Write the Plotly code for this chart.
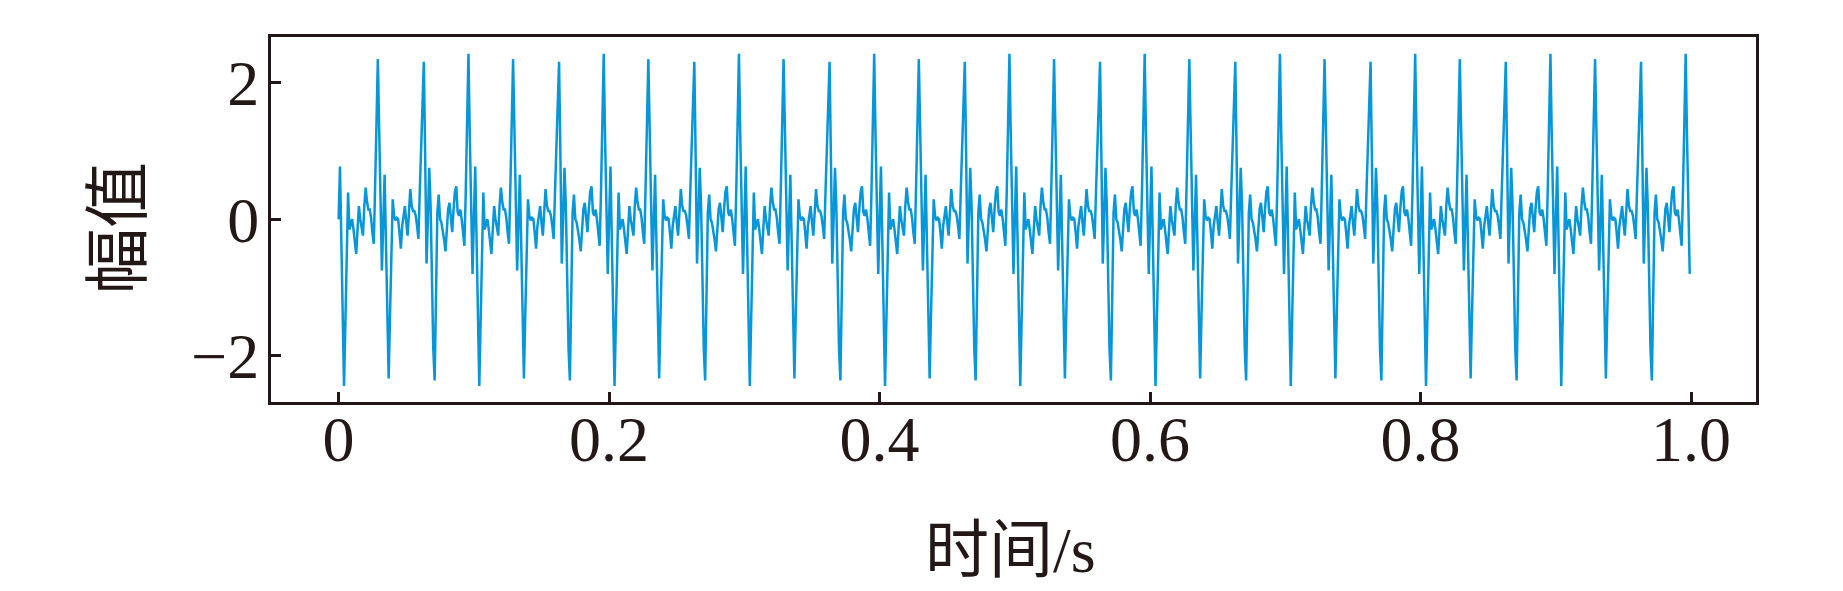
import plotly.graph_objects as go

# One 0.1 s cycle (100 samples at 1 kHz) read from the picture; the recorded
# signal repeats this cycle exactly (peak heights repeat every 3 periods).
cycle_values = [
    0.0, 0.77, -0.3, -1.35, -2.44, -1.5, -0.55, 0.39, -0.15, -0.05,
    0.0, -0.15, -0.3, -0.51, -0.15, 0.19, 0.0, -0.15, -0.24, 0.2,
    0.46, 0.25, 0.14, 0.14, 0.02, -0.2, -0.36, 0.5, 1.45, 2.34,
    1.3, 0.25, -0.75, -0.05, 0.65, -0.35, -1.35, -2.33, -1.4, -0.5,
    0.29, 0.05, -0.02, 0.02, 0.0, -0.2, -0.43, -0.1, 0.1, 0.19,
    -0.05, -0.24, 0.1, 0.44, 0.2, 0.12, 0.12, 0.05, -0.1, -0.29,
    0.4, 1.1, 1.8, 2.30, 0.9, -0.65, 0.0, 0.75, 0.2, -0.9,
    -1.9, -2.36, -1.0, 0.1, 0.36, 0.0, -0.05, -0.15, -0.3, -0.47,
    -0.1, 0.15, 0.24, 0.0, -0.19, 0.15, 0.4, 0.48, 0.1, 0.05,
    0.14, 0.0, -0.2, -0.39, 0.4, 1.5, 2.42, 1.2, 0.1, -0.8,
]
n_cycles = 10
sample_rate = 1000

x_tick_vals = [0, 0.2, 0.4, 0.6, 0.8, 1.0]
x_tick_text = ["0", "0.2", "0.4", "0.6", "0.8", "1.0"]
y_tick_vals = [-2, 0, 2]
y_tick_text = ["\u22122", "0", "2"]
x_title = "时间/s"
y_title = "幅值"

amplitude = cycle_values * n_cycles
time_s = [i / sample_rate for i in range(len(amplitude))]

ink = "#231815"
W, H = 1843, 591
OFF = 8  # page body margin offset of the rendered figure
ml, mr, mt, mb = 271 - OFF, 87 + OFF, 37 - OFF, 189 + OFF
pw, ph = W - ml - mr, H - mt - mb

fig = go.Figure()
fig.add_trace(go.Scatter(
    x=time_s, y=amplitude, mode="lines",
    line=dict(color="#0796d8", width=2.5),
    showlegend=False,
))

fig.update_layout(
    width=W, height=H,
    margin=dict(l=ml, r=mr, t=mt, b=mb, autoexpand=False),
    paper_bgcolor="white", plot_bgcolor="white",
    font=dict(family="Liberation Serif, Noto Sans CJK SC", color=ink),
)
axis_common = dict(
    ticks="inside", ticklen=10, tickwidth=3, tickcolor=ink,
    showline=True, mirror=True, linewidth=3, linecolor=ink,
    showgrid=False, zeroline=False, automargin=False,
    tickfont=dict(size=64, family="Liberation Serif", color=ink),
)
fig.update_xaxes(range=[-0.05, 1.048], tickvals=x_tick_vals,
                 ticktext=x_tick_text, ticklabelstandoff=-21, **axis_common)
fig.update_yaxes(range=[-2.674, 2.664], tickvals=y_tick_vals,
                 ticktext=y_tick_text, ticklabelstandoff=-4, **axis_common)

# axis titles placed as annotations (page pixel positions -> paper coords)
fig.add_annotation(
    text=x_title, showarrow=False, xref="paper", yref="paper",
    x=(1010 - OFF - ml) / pw, y=(H - mb - (550 - OFF)) / ph,
    xanchor="center", yanchor="middle",
    font=dict(size=64, family="Liberation Serif, Noto Sans CJK SC", color=ink),
)
fig.add_annotation(
    text=y_title, showarrow=False, xref="paper", yref="paper",
    x=(112 - OFF - ml) / pw, y=(H - mb - (228 - OFF)) / ph, textangle=-90,
    xanchor="center", yanchor="middle",
    font=dict(size=66, family="Noto Sans CJK SC", color=ink),
)

fig.write_html("out.html")
